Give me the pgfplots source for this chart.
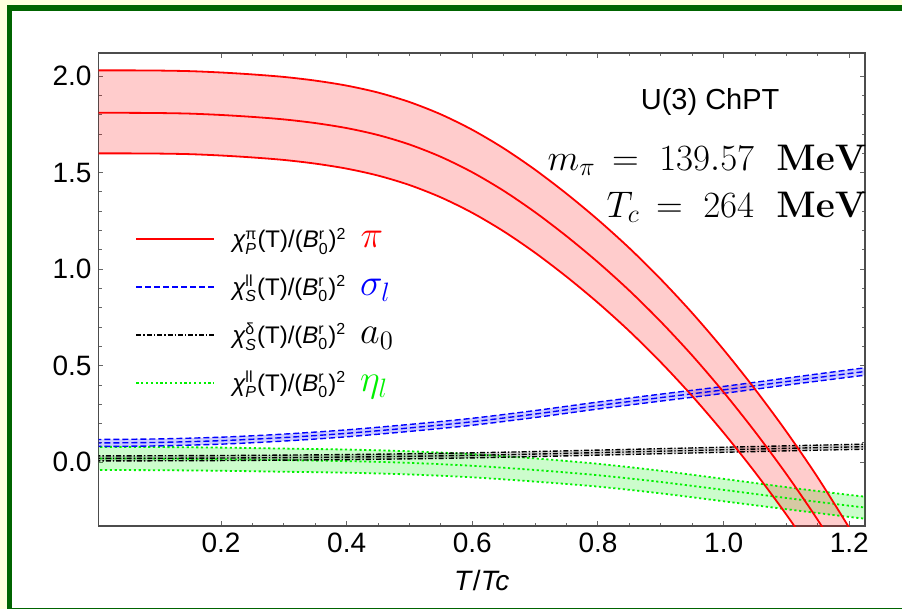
\RequirePackage{fix-cm}
\documentclass[border=0pt]{standalone}
\usepackage{amsmath}
\usepackage[no-math]{fontspec}
\setmainfont{Liberation Sans}
\usepackage{pgfplots}
\pgfplotsset{compat=1.18}
\usepackage{pgfplotstable}
\usepgfplotslibrary{fillbetween}
\definecolor{frameg}{RGB}{0,100,0}
\definecolor{bgy}{RGB}{255,255,222}
\definecolor{mygreen}{RGB}{0,240,0}

\pgfplotstableread{
t U M L
0     2.030 1.810 1.600
0.05  2.030 1.810 1.600
0.1   2.029 1.809 1.599
0.15  2.026 1.806 1.596
0.2   2.019 1.799 1.589
0.25  2.009 1.789 1.579
0.3   1.996 1.776 1.566
0.35  1.977 1.757 1.547
0.4   1.951 1.731 1.521
0.45  1.915 1.695 1.485
0.5   1.866 1.646 1.436
0.55  1.802 1.582 1.372
0.6   1.722 1.502 1.292
0.65  1.626 1.406 1.196
0.7   1.515 1.295 1.085
0.75  1.391 1.171 0.961
0.8   1.256 1.036 0.826
0.85  1.109 0.889 0.679
0.9   0.948 0.728 0.518
0.95  0.773 0.553 0.343
1.0   0.583 0.363 0.153
1.05  0.378 0.158 -0.052
1.1   0.158 -0.062 -0.272
1.15  -0.080 -0.300 -0.510
1.2   -0.340 -0.560 -0.770
1.225 -0.477 -0.697 -0.907
}\piData

\pgfplotstableread{
t U M L
0     0.118 0.100 0.082
0.1   0.121 0.103 0.085
0.2   0.130 0.112 0.094
0.3   0.146 0.128 0.110
0.4   0.168 0.150 0.132
0.5   0.196 0.178 0.160
0.6   0.228 0.210 0.192
0.7   0.268 0.250 0.232
0.8   0.312 0.294 0.276
0.9   0.353 0.335 0.317
1.0   0.393 0.375 0.357
1.1   0.436 0.418 0.400
1.2   0.479 0.460 0.441
1.225 0.489 0.470 0.451
}\sigData

\pgfplotstableread{
t U M L
0     0.033 0.020 0.007
0.2   0.035 0.022 0.009
0.4   0.040 0.027 0.014
0.6   0.049 0.036 0.023
0.8   0.063 0.050 0.037
1.0   0.078 0.065 0.052
1.225 0.094 0.081 0.068
}\aData

\pgfplotstableread{
t U M L
0     0.080 0.020 -0.040
0.1   0.079 0.019 -0.041
0.2   0.076 0.016 -0.044
0.3   0.071 0.011 -0.049
0.4   0.066 0.006 -0.054
0.5   0.057 -0.003 -0.063
0.6   0.042 -0.018 -0.078
0.7   0.020 -0.040 -0.100
0.8   -0.008 -0.067 -0.126
0.9   -0.044 -0.102 -0.161
1.0   -0.086 -0.143 -0.202
1.1   -0.129 -0.185 -0.243
1.2   -0.169 -0.225 -0.283
1.225 -0.178 -0.234 -0.292
}\etaData

\newcommand{\lgtext}[3]{$\text{\itshape χ}^{\text{#1}}_{\text{\itshape #2}}$(T)/(\textit{B}$^{\text{r}}_{\text{0}}$)$^{\text{2}}$\hspace{7pt}{\fontsize{19}{20}\selectfont #3}}

\begin{document}
\begin{tikzpicture}
\begin{axis}[
  set layers,
  at={(49.25pt,41.5pt)}, anchor=south west,
  scale only axis, width=383.25pt, height=236.5pt,
  xmin=0.005, xmax=1.225, ymin=-0.33, ymax=2.12,
  xtick={0.2,0.4,0.6,0.8,1.0,1.2},
  xticklabels={0.2,0.4,0.6,0.8,1.0,1.2},
  ytick={0,0.5,1,1.5,2},
  yticklabels={0.0,0.5,1.0,1.5,2.0},
  minor x tick num=3, minor y tick num=4,
  tick align=inside,
  major tick length=2.4pt, minor tick length=1.5pt,
  axis line style={black!70, line width=0.6pt},
  tick style={black!60, line width=0.5pt},
  ticklabel style={font=\fontsize{14}{16}\selectfont},
  /pgf/number format/assume math mode=true,
  xlabel={\textit{T}/\textit{Tc}},
  xlabel style={font=\fontsize{14}{16}\selectfont, at={(axis description cs:0.5,0)}, anchor=center, yshift=-27pt},
  clip mode=individual,
  legend style={at={(axis description cs:0.040,0.648)}, anchor=north west, draw=none, fill=none,
    font=\fontsize{12}{14}\selectfont, row sep=8.3pt, cells={anchor=west}},
  legend image code/.code={\draw[#1] (0pt,0pt) -- (39pt,0pt); \path (45.5pt,0pt);},
]
\begin{pgfonlayer}{axis background}
\fill[bgy] (rel axis cs:-0.128506,-0.175476) rectangle (rel axis cs:1.048271,1.112051);
\fill[frameg] (rel axis cs:-0.119374,-0.175476) rectangle (rel axis cs:1.048271,1.101480);
\fill[white] (rel axis cs:-0.112851,-0.172304) rectangle (rel axis cs:1.048271,1.088795);
\end{pgfonlayer}
% fills
\addplot[draw=none, smooth, name path=etaU, forget plot] table[x=t,y=U]{\etaData};
\addplot[draw=none, smooth, name path=etaL, forget plot] table[x=t,y=L]{\etaData};
\addplot[mygreen, fill opacity=0.2, forget plot] fill between[of=etaU and etaL];
\addplot[draw=none, smooth, name path=aU, forget plot] table[x=t,y=U]{\aData};
\addplot[draw=none, smooth, name path=aL, forget plot] table[x=t,y=L]{\aData};
\addplot[black, fill opacity=0.15, forget plot] fill between[of=aU and aL];
\addplot[draw=none, smooth, name path=sU, forget plot] table[x=t,y=U]{\sigData};
\addplot[draw=none, smooth, name path=sL, forget plot] table[x=t,y=L]{\sigData};
\addplot[blue, fill opacity=0.2, forget plot] fill between[of=sU and sL];
\addplot[draw=none, smooth, name path=pU, forget plot] table[x=t,y=U]{\piData};
\addplot[draw=none, smooth, name path=pL, forget plot] table[x=t,y=L]{\piData};
\addplot[red, fill opacity=0.2, forget plot] fill between[of=pU and pL];
% lines
\addplot[mygreen, line width=0.9pt, dash pattern=on 1.1pt off 1.3pt, smooth, forget plot] table[x=t,y=U]{\etaData};
\addplot[mygreen, line width=0.9pt, dash pattern=on 1.1pt off 1.3pt, smooth, forget plot] table[x=t,y=M]{\etaData};
\addplot[mygreen, line width=0.9pt, dash pattern=on 1.1pt off 1.3pt, smooth, forget plot] table[x=t,y=L]{\etaData};
\addplot[black, line width=0.7pt, dash pattern=on 2.5pt off 1pt on 0.7pt off 1pt, smooth, forget plot] table[x=t,y=U]{\aData};
\addplot[black, line width=0.7pt, dash pattern=on 2.5pt off 1pt on 0.7pt off 1pt, smooth, forget plot] table[x=t,y=M]{\aData};
\addplot[black, line width=0.7pt, dash pattern=on 2.5pt off 1pt on 0.7pt off 1pt, smooth, forget plot] table[x=t,y=L]{\aData};
\addplot[blue, line width=0.7pt, dash pattern=on 3pt off 1.5pt, smooth, forget plot] table[x=t,y=U]{\sigData};
\addplot[blue, line width=0.7pt, dash pattern=on 3pt off 1.5pt, smooth, forget plot] table[x=t,y=M]{\sigData};
\addplot[blue, line width=0.7pt, dash pattern=on 3pt off 1.5pt, smooth, forget plot] table[x=t,y=L]{\sigData};
\addplot[red, line width=0.9pt, smooth, forget plot] table[x=t,y=U]{\piData};
\addplot[red, line width=0.9pt, smooth, forget plot] table[x=t,y=M]{\piData};
\addplot[red, line width=0.9pt, smooth, forget plot] table[x=t,y=L]{\piData};
% legend
\addlegendimage{red, line width=0.9pt}
\addlegendentry{\lgtext{π}{P}{\textcolor{red}{$\pi$}}}
\addlegendimage{blue, line width=0.7pt, dash pattern=on 3pt off 1.5pt}
\addlegendentry{\lgtext{ll}{S}{\textcolor{blue}{$\sigma_l$}}}
\addlegendimage{black, line width=0.7pt, dash pattern=on 2.5pt off 1pt on 0.7pt off 1pt}
\addlegendentry{\lgtext{δ}{S}{$a_0$}}
\addlegendimage{mygreen, line width=0.9pt, dash pattern=on 1.1pt off 1.3pt}
\addlegendentry{\lgtext{ll}{P}{\textcolor{mygreen}{$\eta_l$}}}
% annotations
\node[anchor=base, inner sep=0pt, font=\fontsize{14.5}{16}\selectfont] at (rel axis cs:0.798,0.8795) {U(3) ChPT};
\node[anchor=base east, inner sep=0pt, font=\fontsize{18.5}{20}\selectfont] at (rel axis cs:1.003,0.7526) {$m_\pi\mskip3mu=\mskip5mu 139.57\hspace{0.6em}\mathbf{MeV}$};
\node[anchor=base east, inner sep=0pt, font=\fontsize{18.5}{20}\selectfont] at (rel axis cs:1.003,0.653) {$T_c\mskip3mu=\mskip5mu 264\hspace{0.6em}\mathbf{MeV}$};
\end{axis}
\end{tikzpicture}
\end{document}
